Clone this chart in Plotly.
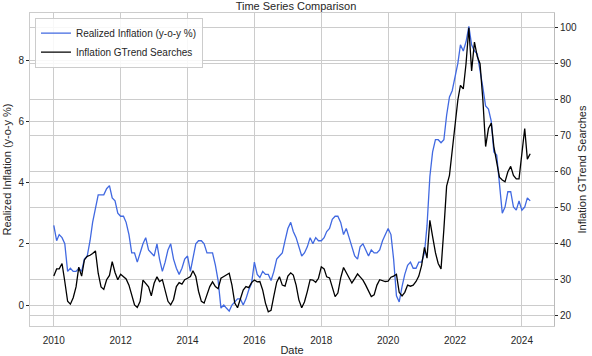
import pandas as pd
import plotly.graph_objects as go

# ── data (monthly, Jan 2010 – Apr 2024) ──────────────────────────────────────
dates = pd.date_range("2010-01-01", periods=172, freq="MS")

inflation = [
    2.6, 2.1, 2.3, 2.2, 2.0, 1.1, 1.2, 1.1, 1.1, 1.2, 1.1, 1.5,   # 2010
    1.6, 2.1, 2.7, 3.2, 3.6, 3.6, 3.6, 3.8, 3.9, 3.5, 3.4, 3.0,   # 2011
    2.9, 2.9, 2.7, 2.3, 1.7, 1.7, 1.4, 1.7, 2.0, 2.2, 1.8, 1.7,   # 2012
    1.6, 2.0, 1.5, 1.1, 1.4, 1.8, 2.0, 1.5, 1.2, 1.0, 1.2, 1.5,   # 2013
    1.6, 1.1, 1.5, 2.0, 2.1, 2.1, 2.0, 1.7, 1.7, 1.7, 1.3, 0.8,   # 2014
    -0.1, 0.0, -0.1, -0.2, 0.0, 0.1, 0.2, 0.2, 0.0, 0.2, 0.5, 0.7,  # 2015
    1.4, 1.0, 0.9, 1.1, 1.0, 1.0, 0.8, 1.1, 1.5, 1.6, 1.7, 2.1,   # 2016
    2.5, 2.7, 2.4, 2.2, 1.9, 1.6, 1.7, 1.9, 2.2, 2.0, 2.2, 2.1,   # 2017
    2.1, 2.2, 2.4, 2.5, 2.8, 2.9, 2.9, 2.7, 2.3, 2.5, 2.2, 1.9,   # 2018
    1.6, 1.5, 1.9, 2.0, 1.8, 1.6, 1.8, 1.7, 1.7, 1.8, 2.1, 2.3,   # 2019
    2.5, 2.3, 1.5, 0.3, 0.1, 0.6, 1.0, 1.3, 1.4, 1.2, 1.2, 1.4,   # 2020
    1.4, 1.7, 2.6, 4.2, 5.0, 5.4, 5.4, 5.3, 5.4, 6.2, 6.8, 7.0,   # 2021
    7.5, 7.9, 8.5, 8.3, 8.6, 9.1, 8.5, 8.3, 8.2, 7.7, 7.1, 6.5,   # 2022
    6.4, 6.0, 5.0, 4.9, 4.0, 3.0, 3.2, 3.7, 3.7, 3.2, 3.1, 3.4,   # 2023
    3.1, 3.2, 3.5, 3.4,                                           # 2024
]

gtrend = [
    31.0, 33.0, 33.0, 34.5, 29.5, 24.0, 23.2, 25.0, 28.0, 33.5, 31.0, 35.5,   # 2010
    36.5, 36.8, 37.3, 38.0, 31.8, 28.0, 27.3, 30.0, 31.2, 35.0, 32.0, 30.0,   # 2011
    31.5, 30.8, 30.2, 28.5, 25.5, 23.0, 22.3, 24.0, 29.9, 28.8, 28.0, 25.5,   # 2012
    29.0, 30.8, 29.5, 30.0, 26.8, 24.0, 23.0, 24.5, 28.1, 29.2, 28.8, 30.0,   # 2013
    30.4, 30.9, 32.5, 30.9, 26.8, 24.0, 23.5, 25.7, 28.1, 29.4, 28.1, 27.5,   # 2014
    30.4, 30.9, 31.3, 31.8, 28.5, 23.5, 22.2, 24.5, 27.1, 28.1, 27.8, 29.2,   # 2015
    29.9, 29.4, 29.5, 27.1, 23.5, 21.1, 21.5, 25.5, 29.3, 30.8, 28.5, 28.2,   # 2016
    31.0, 31.9, 31.3, 28.5, 24.4, 22.2, 23.8, 26.7, 30.0, 29.9, 29.3, 30.4,   # 2017
    33.6, 33.0, 30.8, 30.5, 28.1, 25.3, 26.3, 30.5, 33.4, 32.0, 30.3, 29.1,   # 2018
    30.3, 31.6, 30.8, 29.9, 28.5, 27.0, 25.3, 25.8, 28.5, 30.0, 29.8, 29.5,   # 2019
    29.6, 30.7, 31.0, 31.5, 26.5, 25.5, 26.5, 28.5, 28.2, 28.5, 29.5, 31.0,   # 2020
    34.0, 39.0, 36.0, 46.5, 42.0, 37.5, 34.5, 33.0, 44.0, 56.0, 59.0, 66.0,   # 2021
    74.5, 80.0, 84.0, 83.0, 90.0, 100.0, 88.0, 96.0, 92.0, 90.0, 80.0, 67.0,  # 2022
    72.0, 73.5, 67.0, 62.3, 58.5, 57.7, 57.2, 60.0, 61.5, 59.0, 58.0, 58.0,   # 2023
    65.0, 72.0, 63.5, 65.0,                                                   # 2024
]

year_ticks = ["2010-01-01", "2012-01-01", "2014-01-01", "2016-01-01",
              "2018-01-01", "2020-01-01", "2022-01-01", "2024-01-01"]
year_labels = ["2010", "2012", "2014", "2016", "2018", "2020", "2022", "2024"]

GRID = "#cccccc"
TXT = "#262626"
FONT = "Liberation Sans, Arial, sans-serif"

fig = go.Figure()
fig.add_trace(go.Scatter(
    x=dates, y=inflation, mode="lines", name="Realized Inflation (y-o-y %)",
    line=dict(color="royalblue", width=1.3), yaxis="y",
))
fig.add_trace(go.Scatter(
    x=dates, y=gtrend, mode="lines", name="Inflation GTrend Searches",
    line=dict(color="black", width=1.3), yaxis="y2",
))

fig.update_layout(
    width=592, height=356,
    margin=dict(l=30, r=38, t=13, b=30),
    paper_bgcolor="white", plot_bgcolor="white",
    font=dict(family=FONT, size=10, color=TXT),
    title=dict(text="Time Series Comparison", x=0.5, xanchor="center",
               y=1 - 6 / 356, yanchor="middle", font=dict(size=11, color=TXT)),
    showlegend=True,
    legend=dict(x=0.0095, y=0.985, xanchor="left", yanchor="top",
                bgcolor="rgba(255,255,255,0.85)", bordercolor=GRID, borderwidth=1,
                font=dict(size=10, color=TXT), itemwidth=30,
                tracegroupgap=0),
    xaxis=dict(
        range=["2009-04-16", "2024-12-17"],
        tickvals=year_ticks, ticktext=year_labels,
        showgrid=True, gridcolor=GRID, gridwidth=1,
        showline=True, linecolor=GRID, mirror=True,
        ticks="", ticklen=0, ticklabelstandoff=5, zeroline=False,
        title=dict(text="Date", font=dict(size=11, color=TXT), standoff=3),
        automargin=False,
    ),
    yaxis=dict(
        range=[-0.686, 9.54], tickvals=[0, 2, 4, 6, 8],
        showgrid=True, gridcolor=GRID, gridwidth=1,
        showline=True, linecolor=GRID, zeroline=False,
        ticks="outside", ticklen=3, tickcolor=TXT,
        title=dict(text="Realized Inflation (y-o-y %)", font=dict(size=11, color=TXT), standoff=4),
        automargin=False,
    ),
    yaxis2=dict(
        overlaying="y", side="right",
        range=[17.14, 104.1], tickvals=[20, 30, 40, 50, 60, 70, 80, 90, 100],
        showgrid=True, gridcolor=GRID, gridwidth=1,
        showline=True, linecolor="#bbbbbb", zeroline=False,
        ticks="outside", ticklen=3, tickcolor=TXT,
        title=dict(text="Inflation GTrend Searches", font=dict(size=11, color=TXT), standoff=2),
        automargin=False,
    ),
)

# page body has a default 8px margin; drop it so the figure sits at (0, 0)
fig.write_html("out.html", config={"displayModeBar": False},
               post_script="document.body.style.margin='0px';")
